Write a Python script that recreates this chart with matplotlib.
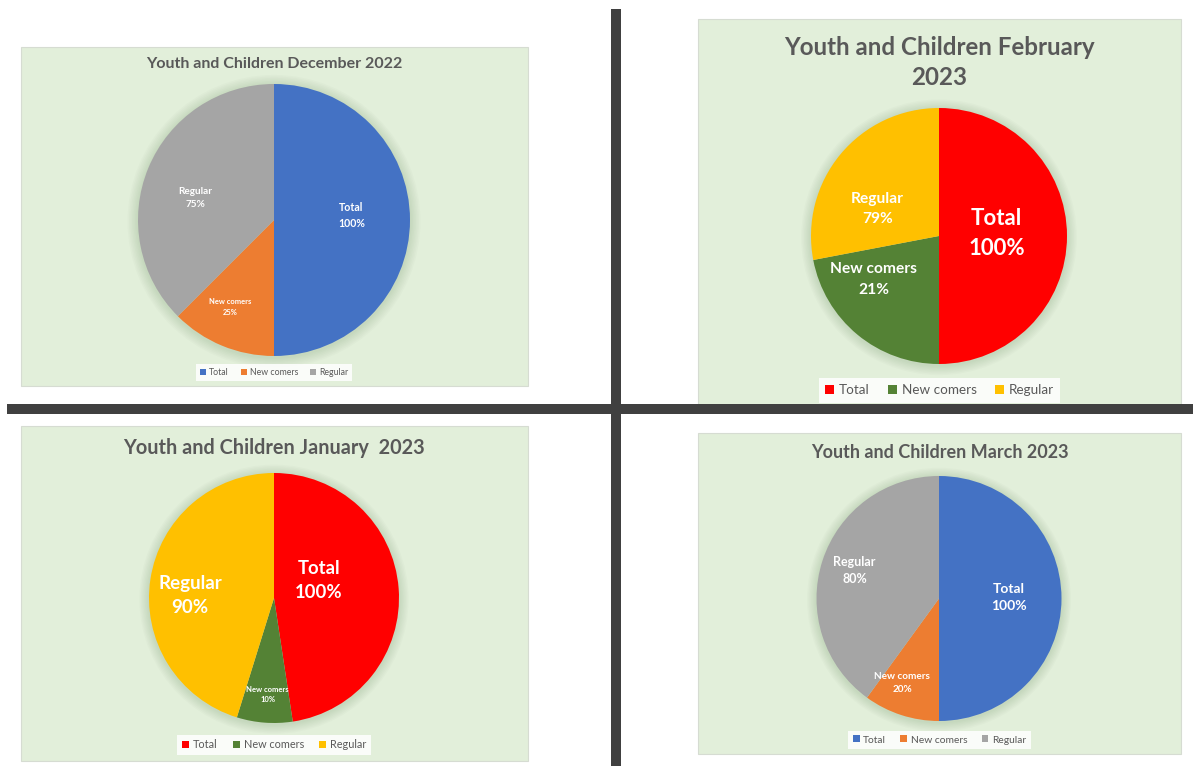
import matplotlib
matplotlib.use("Agg")
import matplotlib.pyplot as plt
from matplotlib.patches import Rectangle, Circle
import numpy as np

plt.rcParams['font.family'] = ['Lato', 'DejaVu Sans']

# ---------------- data ----------------
categories = ["Total", "New comers", "Regular"]

dec_title = "Youth and Children December 2022"
dec_values = [100, 25, 75]
dec_labels = ["100%", "25%", "75%"]

feb_title = "Youth and Children February\n2023"
feb_values = [50, 22, 28]
feb_labels = ["100%", "21%", "79%"]

jan_title = "Youth and Children January  2023"
jan_values = [47.6, 7.2, 45.2]
jan_labels = ["100%", "10%", "90%"]

mar_title = "Youth and Children March 2023"
mar_values = [100, 20, 80]
mar_labels = ["100%", "20%", "80%"]

blue_set = ["#4472C4", "#ED7D31", "#A5A5A5"]
red_set = ["#FF0000", "#548235", "#FFC000"]

# ---------------- layout ----------------
W, H = 1193, 766
fig = plt.figure(figsize=(W / 100, H / 100), dpi=100)
fig.patch.set_facecolor("white")

BG = "#E2EFDA"
TXT = "#595959"


def fx(x):
    return x / W


def fy(y):
    return 1 - y / H


def panel(box, title, title_y, title_fs, center, r, values, labels, colors,
          label_pos, label_fs, legend_y, legend_fs):
    x0, y0, x1, y1 = box
    fig.patches.append(Rectangle((fx(x0), fy(y1)), fx(x1 - x0), (y1 - y0) / H,
                                 transform=fig.transFigure, facecolor=BG,
                                 edgecolor="#D6DCD2", linewidth=0.8, zorder=-5))
    fig.text(fx((x0 + x1) / 2), fy(title_y), title, ha="center", va="center",
             fontsize=title_fs, fontweight="bold", color=TXT, linespacing=1.4)
    cx, cy = center
    R = r * 1.12
    ax = fig.add_axes([fx(cx - R), fy(cy + R), 2 * R / W, 2 * R / H])
    ax.set_zorder(1)
    # soft shadow glow
    for k in range(7):
        ax.add_patch(Circle((0, -0.01), 1.0 + 0.011 * (k + 1), facecolor="#6A8A5C",
                            edgecolor="none", alpha=0.03, zorder=0))
    wedges, _ = ax.pie(values, colors=colors, startangle=90, counterclock=False,
                       radius=1.0, wedgeprops=dict(linewidth=0))
    ax.set_xlim(-R / r, R / r)
    ax.set_ylim(-R / r, R / r)
    ax.set_aspect("equal")
    ax.axis("off")
    for w in wedges:
        w.set_zorder(2)
    for i, (cat, lab) in enumerate(zip(categories, labels)):
        px, py = label_pos[i]
        ax.text(px, py, f"{cat}\n{lab}", ha="center", va="center",
                fontsize=label_fs[i], fontweight="bold", color="white",
                linespacing=1.55, zorder=3)
    leg = fig.legend(wedges, categories, loc="center",
                     bbox_to_anchor=(fx((x0 + x1) / 2), fy(legend_y)),
                     bbox_transform=fig.transFigure, ncol=3, frameon=True,
                     fontsize=legend_fs, handlelength=0.65, handleheight=0.65,
                     handletextpad=0.35, columnspacing=1.4, borderpad=0.45,
                     labelcolor=TXT)
    leg.set_zorder(5)
    leg.get_frame().set_facecolor("white")
    leg.get_frame().set_edgecolor("none")
    leg.get_frame().set_alpha(0.85)
    leg.get_frame().set_boxstyle("square", pad=0)
    return ax


# December 2022 (top-left)
panel((20.5, 47, 528, 386), dec_title, 64, 11.5, (274, 220), 136,
      dec_values, dec_labels, blue_set,
      [(0.57, 0.03), (-0.32, -0.64), (-0.58, 0.16)], [7.6, 5.4, 7.2], 372.5, 6.3)

# February 2023 (top-right)
panel((698, 19, 1181, 410), feb_title, 62.5, 17.4, (939, 236), 128,
      feb_values, feb_labels, red_set,
      [(0.45, 0.02), (-0.51, -0.34), (-0.48, 0.21)], [16, 11.2, 11.2], 390.5, 9.7)

# January 2023 (bottom-left)
panel((20.5, 426, 528, 761), jan_title, 448, 14.3, (274, 598), 125,
      jan_values, jan_labels, red_set,
      [(0.36, 0.14), (-0.05, -0.77), (-0.67, 0.02)], [13.3, 5.5, 13.5], 745, 7.8)

# March 2023 (bottom-right)
panel((698, 433, 1181, 754), mar_title, 453, 13, (939, 598.5), 122.5,
      mar_values, mar_labels, blue_set,
      [(0.57, 0.01), (-0.30, -0.69), (-0.69, 0.23)], [10, 7.2, 9], 740, 7.4)

# dark divider lines
DIV = "#404040"
fig.patches.append(Rectangle((fx(7), fy(414.5)), fx(W - 7), 10.5 / H,
                             transform=fig.transFigure, facecolor=DIV,
                             edgecolor="none", zorder=10))
fig.patches.append(Rectangle((fx(611), fy(766)), 9.5 / W, (766 - 9) / H,
                             transform=fig.transFigure, facecolor=DIV,
                             edgecolor="none", zorder=10))

fig.savefig("out.png", dpi=100, facecolor="white")
